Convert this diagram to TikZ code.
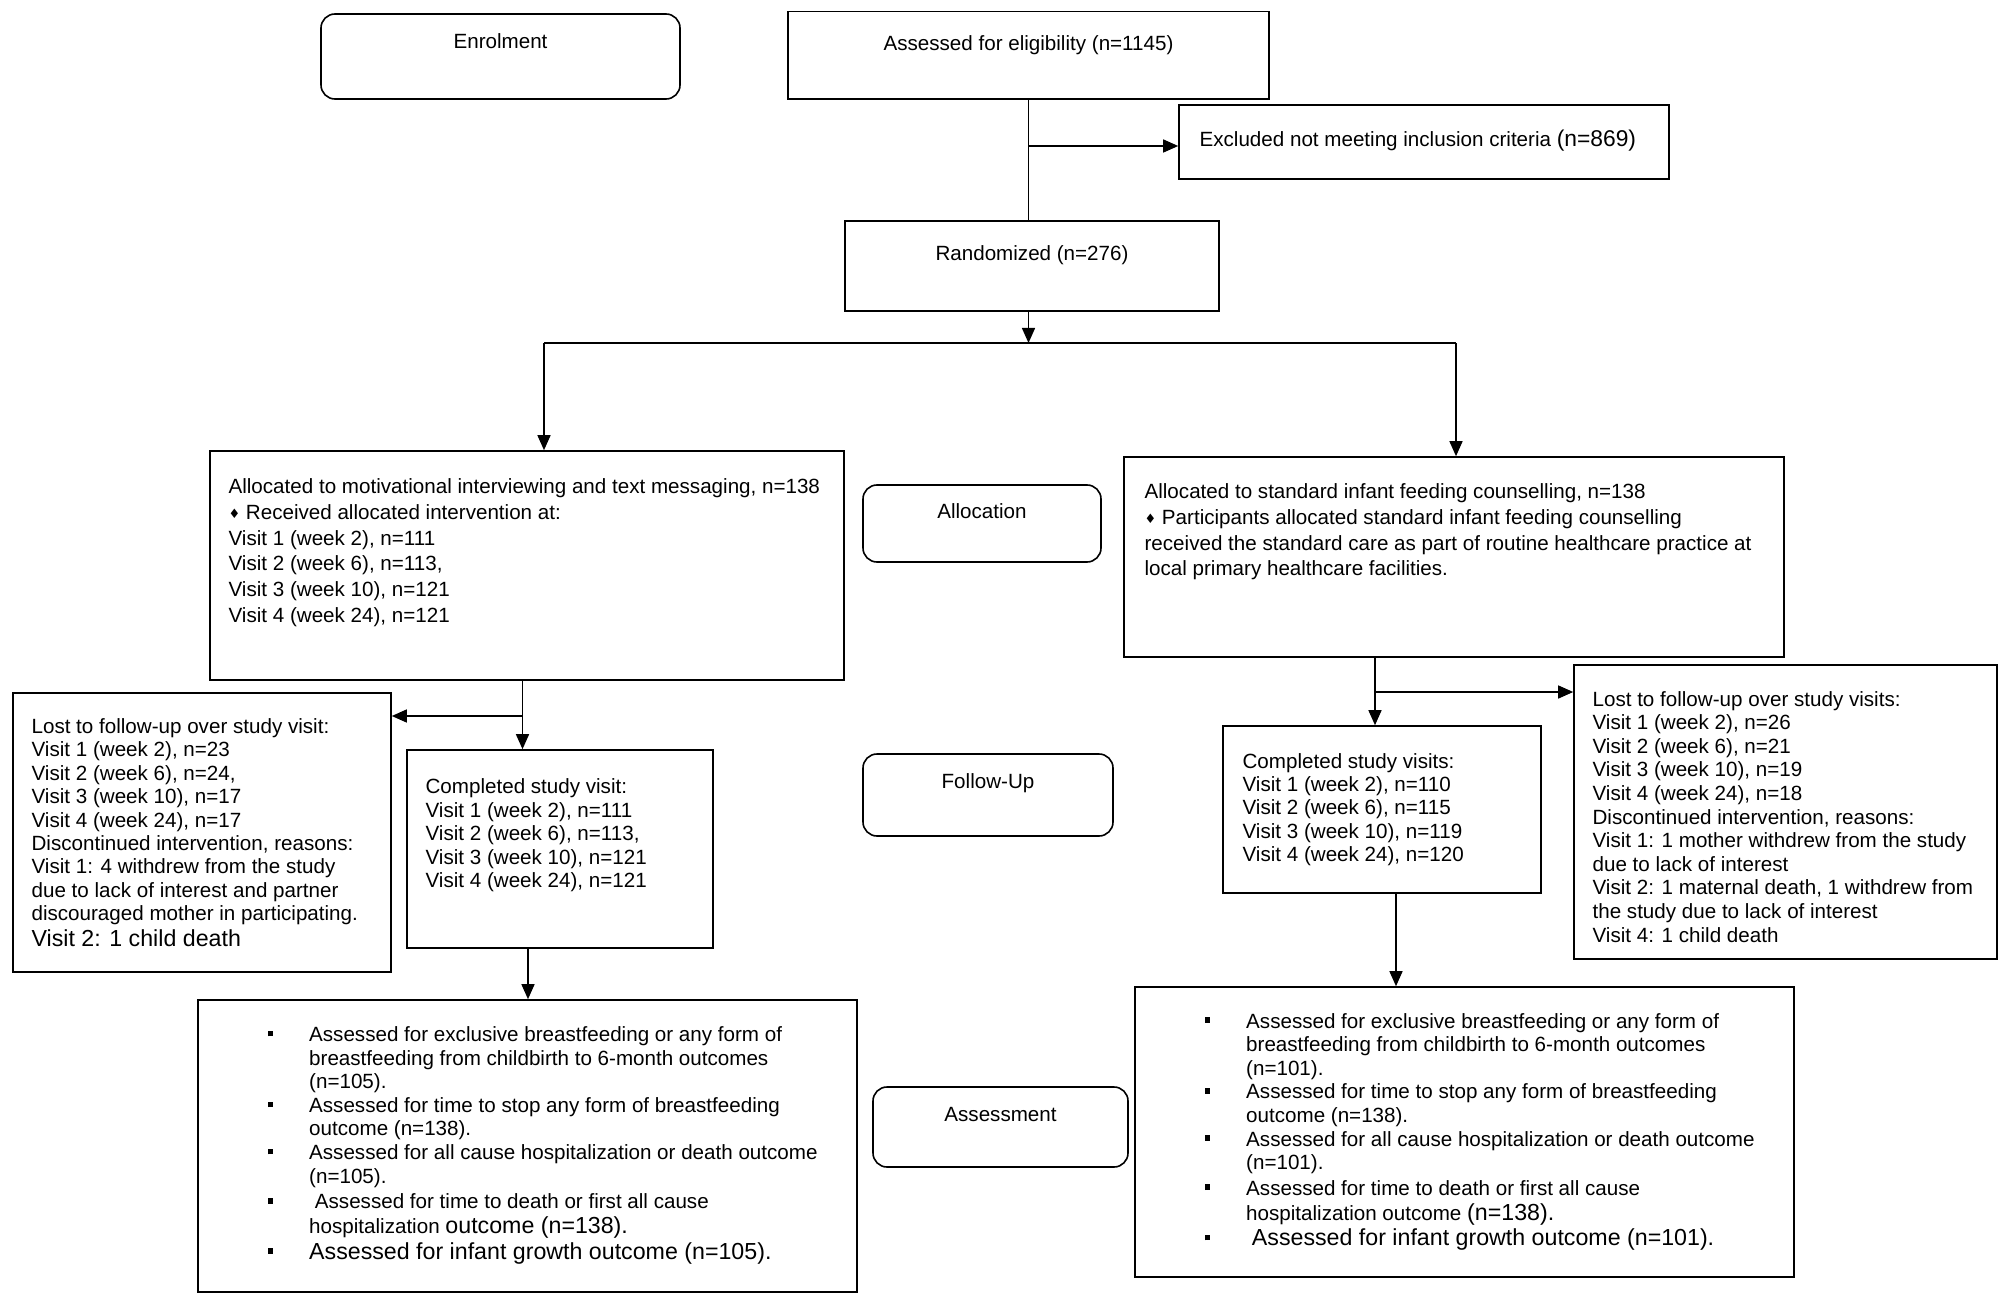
\documentclass[tikz,border=0pt]{standalone}
\usepackage{fontspec}
\setmainfont{Liberation Sans}
\newfontfamily\symfont{DejaVu Sans}
\usetikzlibrary{arrows.meta,fit,calc}
\newcommand\bulitem{\makebox[20.8pt][l]{\rule[2.6pt]{2.8pt}{2.8pt}}}
\newcommand\bulpad{\makebox[20.8pt][l]{}}
\newcommand\diam{\raisebox{0.6pt}{\symfont\fontsize{6.5}{6.5}\selectfont ♦}}
\newcommand\bigsz{\fontsize{11.6}{13}\selectfont}
\begin{document}
\begin{tikzpicture}[x=0.5pt,y=-0.5pt,
  box/.style={draw,line width=0.8pt,inner sep=0pt},
  rbox/.style={box,rounded corners=7pt},
  conn/.style={line width=0.7pt},
  arr/.style={conn,-{Triangle[length=7.5pt,width=6.5pt]}},
  txt/.style={inner sep=0pt,align=left,anchor=north west},
  lbl/.style={inner sep=0pt,anchor=base}]
\path[fill=white,use as bounding box] (0,0) rectangle (2008,1305);
\fontsize{10.3}{12}\selectfont
% boxes
\node[rbox,fit={(321,14) (680,99)}] (enrol) {};
\node[box,fit={(788,11.5) (1269,99)}] (assess) {};
\node[box,fit={(1179,105) (1669,179)}] (excl) {};
\node[box,fit={(845,221) (1219,311)}] (random) {};
\node[box,fit={(210,451) (844,680)}] (alloc1) {};
\node[rbox,fit={(863,485) (1101,562)}] (allocL) {};
\node[box,fit={(1124,457) (1784,657)}] (alloc2) {};
\node[box,fit={(13,693) (391,972)}] (lost1) {};
\node[box,fit={(407,750) (713,948)}] (comp1) {};
\node[rbox,fit={(863,754) (1113,836)}] (followL) {};
\node[box,fit={(1223,726) (1541,893)}] (comp2) {};
\node[box,fit={(1574,665) (1997,959)}] (lost2) {};
\node[box,fit={(198,1000) (857,1292)}] (as1) {};
\node[rbox,fit={(873,1087) (1128,1167)}] (assessL) {};
\node[box,fit={(1135,987) (1794,1277)}] (as2) {};
% single labels
\node[lbl] (enrolt) at ($(enrol.north)+(0,35.5)$) {Enrolment};
\node[lbl] (assesst) at ($(assess.north)+(0,40)$) {Assessed for eligibility (n=1145)};
\node[lbl,anchor=base west] (exclt) at ($(excl.west)+(21,4.5)$) {Excluded not meeting inclusion criteria {\fontsize{11.4}{13}\selectfont(n=869)}};
\node[lbl] (randomt) at ($(random.north)+(0,40.5)$) {Randomized (n=276)};
\node[lbl] (allocLt) at ($(allocL.north)+(0,34.5)$) {Allocation};
\node[lbl] (followLt) at ($(followL.north)+(0,35.5)$) {Follow-Up};
\node[lbl] (assessLt) at ($(assessL.north)+(0,35.5)$) {Assessment};
% multi-line texts
\node[txt,font=\fontsize{10.3}{12.9}\selectfont] (alloc1t) at ($(alloc1.north west)+(19,28)$) {Allocated to motivational interviewing and text messaging, n=138\\
\diam\ Received allocated intervention at:\\
Visit 1 (week 2), n=111\\
Visit 2 (week 6), n=113,\\
Visit 3 (week 10), n=121\\
Visit 4 (week 24), n=121};
\node[txt,font=\fontsize{10.3}{12.9}\selectfont] (alloc2t) at ($(alloc2.north west)+(21,27)$) {Allocated to standard infant feeding counselling, n=138\\
\diam\ Participants allocated standard infant feeding counselling\\
received the standard care as part of routine healthcare practice at\\
local primary healthcare facilities.};
\node[txt,font=\fontsize{10.3}{11.7}\selectfont] (lost1t) at ($(lost1.north west)+(19,26)$) {Lost to follow-up over study visit:\\
Visit 1 (week 2), n=23\\
Visit 2 (week 6), n=24,\\
Visit 3 (week 10), n=17\\
Visit 4 (week 24), n=17\\
Discontinued intervention, reasons:\\
Visit 1: 4 withdrew from the study\\
due to lack of interest and partner\\
discouraged mother in participating.\\[1.3pt]
{\bigsz Visit 2: 1 child death}};
\node[txt,font=\fontsize{10.3}{11.75}\selectfont] (comp1t) at ($(comp1.north west)+(19,29)$) {Completed study visit:\\
Visit 1 (week 2), n=111\\
Visit 2 (week 6), n=113,\\
Visit 3 (week 10), n=121\\
Visit 4 (week 24), n=121};
\node[txt,font=\fontsize{10.3}{11.7}\selectfont] (comp2t) at ($(comp2.north west)+(20,27.5)$) {Completed study visits:\\
Visit 1 (week 2), n=110\\
Visit 2 (week 6), n=115\\
Visit 3 (week 10), n=119\\
Visit 4 (week 24), n=120};
\node[txt,font=\fontsize{10.3}{11.8}\selectfont] (lost2t) at ($(lost2.north west)+(19,26.5)$) {Lost to follow-up over study visits:\\
Visit 1 (week 2), n=26\\
Visit 2 (week 6), n=21\\
Visit 3 (week 10), n=19\\
Visit 4 (week 24), n=18\\
Discontinued intervention, reasons:\\
Visit 1: 1 mother withdrew from the study\\
due to lack of interest\\
Visit 2: 1 maternal death, 1 withdrew from\\
the study due to lack of interest\\
Visit 4: 1 child death};
\node[txt,font=\fontsize{10.3}{11.8}\selectfont] (as1t) at ($(as1.north west)+(70,27)$) {\bulitem Assessed for exclusive breastfeeding or any form of\\
\bulpad breastfeeding from childbirth to 6-month outcomes\\
\bulpad (n=105).\\
\bulitem Assessed for time to stop any form of breastfeeding\\
\bulpad outcome (n=138).\\
\bulitem Assessed for all cause hospitalization or death outcome\\
\bulpad (n=105).\\[1pt]
\bulitem\ Assessed for time to death or first all cause\\[0.8pt]
\bulpad hospitalization {\bigsz outcome (n=138).}\\[0.8pt]
\bulitem {\bigsz Assessed for infant growth outcome (n=105).}};
\node[txt,font=\fontsize{10.3}{11.8}\selectfont] (as2t) at ($(as2.north west)+(70,26.5)$) {\bulitem Assessed for exclusive breastfeeding or any form of\\
\bulpad breastfeeding from childbirth to 6-month outcomes\\
\bulpad (n=101).\\
\bulitem Assessed for time to stop any form of breastfeeding\\
\bulpad outcome (n=138).\\
\bulitem Assessed for all cause hospitalization or death outcome\\
\bulpad (n=101).\\[1pt]
\bulitem Assessed for time to death or first all cause\\[0.8pt]
\bulpad hospitalization outcome {\bigsz (n=138).}\\[0.8pt]
\bulitem\ {\bigsz Assessed for infant growth outcome (n=101).}};
% connectors
\coordinate (exj) at (1028.5,146);
\coordinate (split) at (1028.5,343);
\coordinate (hl) at (544,343);
\coordinate (hr) at (1456,343);
\coordinate (lj) at (522.5,716);
\coordinate (lk) at (528,948);
\coordinate (rj) at (1375,692);
\coordinate (rk) at (1396,893);
\draw[conn] (assess.south) -- (assess.south |- random.north);
\draw[arr] (exj) -- (exj -| excl.west);
\draw[arr] (split |- random.south) -- (split);
\draw[conn] (hl) -- (hr);
\draw[arr] (hl) -- (hl |- alloc1.north);
\draw[arr] (hr) -- (hr |- alloc2.north);
\draw[arr] (lj |- alloc1.south) -- (lj |- comp1.north);
\draw[arr] (lj) -- (lj -| lost1.east);
\draw[arr] (lk |- comp1.south) -- (lk |- as1.north);
\draw[arr] (rj |- alloc2.south) -- (rj |- comp2.north);
\draw[arr] (rj) -- (rj -| lost2.west);
\draw[arr] (rk |- comp2.south) -- (rk |- as2.north);
\end{tikzpicture}
\end{document}
